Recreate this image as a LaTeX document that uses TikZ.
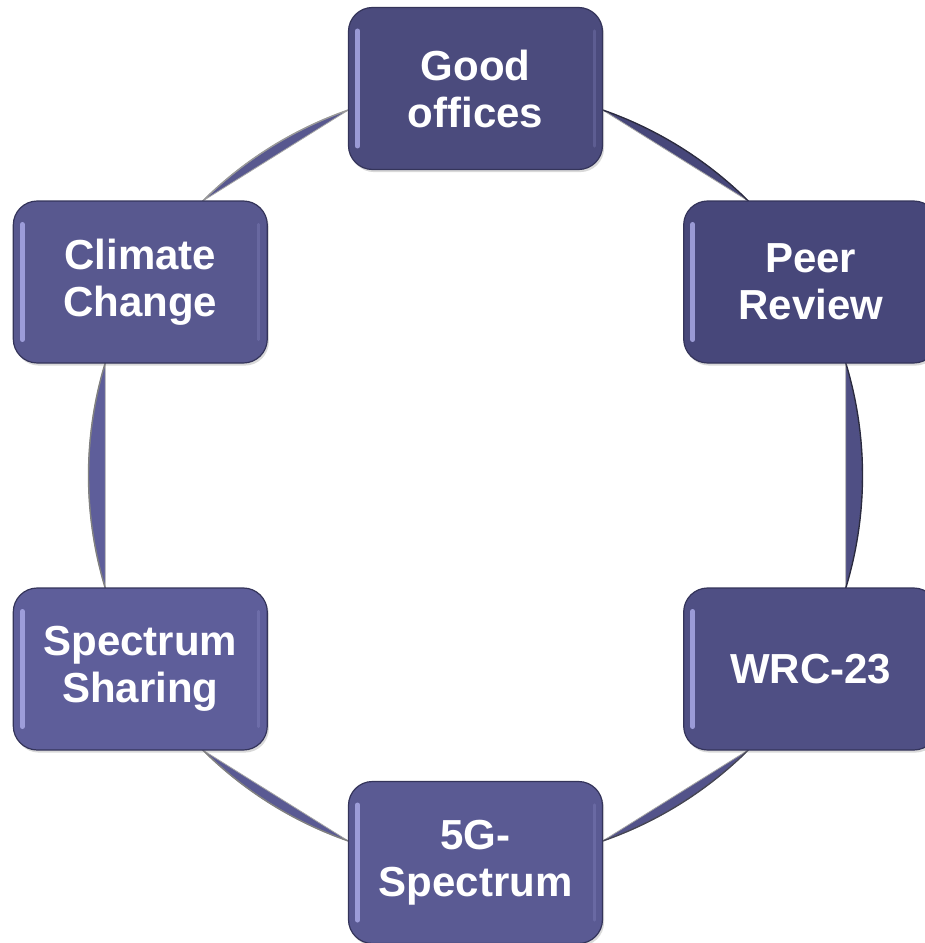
\documentclass[tikz,border=0pt]{standalone}
\usepackage{fontspec}
\setmainfont{Liberation Sans}
\usetikzlibrary{shadows}
\definecolor{cgood}{HTML}{4B4B7D}
\definecolor{cpeer}{HTML}{47477A}
\definecolor{cwrc}{HTML}{4F4F84}
\definecolor{cfive}{HTML}{5A5A93}
\definecolor{cshare}{HTML}{5E5E9A}
\definecolor{cclim}{HTML}{58588F}
\definecolor{boxedge}{HTML}{34345A}
\definecolor{segedge}{HTML}{2A2A40}
\definecolor{hilite}{HTML}{A9A9E6}
\begin{document}
\begin{tikzpicture}[x=0.5pt,y=0.5pt,
  box/.style={rounded corners=12pt, minimum width=127pt, minimum height=81pt,
    draw=boxedge, line width=0.6pt, text=white,
    font=\fontsize{21}{23.5}\selectfont\bfseries, align=center, inner sep=0pt,
    drop shadow={shadow xshift=0.8pt, shadow yshift=-1.3pt, opacity=0.3}},
  seg/.style={line width=0.4pt, draw=gray!70},
  segarc/.style={line width=0.7pt, draw=segedge},
  hl/.style={draw=hilite, line width=2.4pt, line cap=round, opacity=0.85},
  hlb/.style={draw=hilite, line width=1.6pt, line cap=round, opacity=0.2}]
\useasboundingbox (-475.5,-467.5) rectangle (449.5,475.5);
% connector end points on the circle
\foreach \n/\a in {a1/70.84,a2/45.18,b1/16.9,b2/-16.9,c1/-45.18,c2/-70.84,
                   d1/-109.16,d2/-134.82,e1/196.9,e2/163.1,f1/134.82,f2/109.16}
  \coordinate (\n) at (\a:387);
% connectors (circular segments)
\filldraw[seg, fill=cpeer] (a1) arc[start angle=70.84, end angle=45.18, radius=387] -- cycle;
\draw[segarc] (a1) arc[start angle=70.84, end angle=45.18, radius=387];
\filldraw[seg, fill=cwrc] (b1) arc[start angle=16.9, end angle=-16.9, radius=387] -- cycle;
\draw[segarc] (b1) arc[start angle=16.9, end angle=-16.9, radius=387];
\filldraw[seg, fill=cwrc!60!cfive] (c1) arc[start angle=-45.18, end angle=-70.84, radius=387] -- cycle;
\draw[segarc, draw=segedge!70!gray] (c1) arc[start angle=-45.18, end angle=-70.84, radius=387];
\filldraw[seg, fill=cfive] (d1) arc[start angle=-109.16, end angle=-134.82, radius=387] -- cycle;
\draw[segarc, draw=gray] (d1) arc[start angle=-109.16, end angle=-134.82, radius=387];
\filldraw[seg, fill=cshare] (e1) arc[start angle=196.9, end angle=163.1, radius=387] -- cycle;
\draw[segarc, draw=gray] (e1) arc[start angle=196.9, end angle=163.1, radius=387];
\filldraw[seg, fill=cclim] (f1) arc[start angle=134.82, end angle=109.16, radius=387] -- cycle;
\draw[segarc, draw=gray!80] (f1) arc[start angle=134.82, end angle=109.16, radius=387];
% boxes
\node[box, fill=cgood]  (good)  at (0,387)         {Good\\offices};
\node[box, fill=cpeer]  (peer)  at (335.2,193.5)   {Peer\\Review};
\node[box, fill=cwrc]   (wrc)   at (335.2,-193.5)  {WRC-23};
\node[box, fill=cfive]  (five)  at (0,-387)        {5G-\\Spectrum};
\node[box, fill=cshare] (share) at (-335.2,-193.5) {Spectrum\\Sharing};
\node[box, fill=cclim]  (clim)  at (-335.2,193.5)  {Climate\\Change};
% bevel highlights
\foreach \n in {good,peer,wrc,five,share,clim}{
  \draw[hl] ([xshift=4.8pt,yshift=-12pt]\n.north west) -- ([xshift=4.8pt,yshift=12pt]\n.south west);
  \draw[hlb] ([xshift=-4.5pt,yshift=-12pt]\n.north east) -- ([xshift=-4.5pt,yshift=12pt]\n.south east);
}
\end{tikzpicture}
\end{document}
